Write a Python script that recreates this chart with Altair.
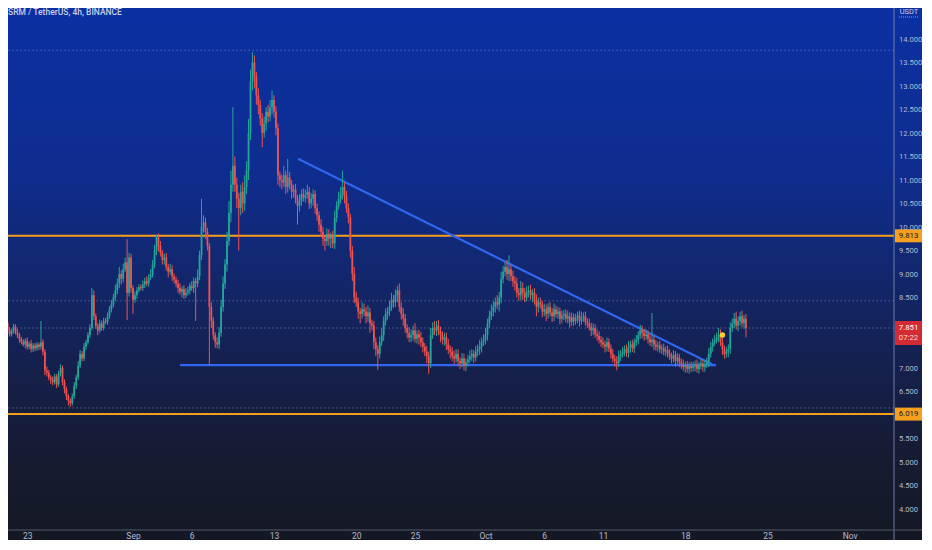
import altair as alt
import pandas as pd

TITLE = "SRM / TetherUS, 4h, BINANCE"
START = "2021-08-20 16:00"
FIRST_OPEN = 7.80

# 4h closes, one row per day (6 candles)
closes = [
    7.85, 7.78, 7.90, 7.95, 7.80, 7.72,
    7.80, 7.88, 7.75, 7.70, 7.62, 7.55,
    7.50, 7.58, 7.45, 7.52, 7.40, 7.48,
    7.42, 7.50, 7.45, 7.55, 7.35, 6.95,
    6.90, 6.80, 6.75, 6.70, 6.82, 6.65,
    6.88, 7.00, 6.70, 6.55, 6.40, 6.30,
    6.25, 6.40, 6.62, 6.80, 7.05, 7.30,
    7.20, 7.45, 7.55, 7.70, 7.85, 8.55,
    8.10, 7.90, 7.80, 7.95, 7.85, 8.00,
    7.98, 8.10, 8.25, 8.35, 8.50, 8.65,
    8.80, 9.00, 8.90, 9.10, 9.25, 8.60,
    9.35, 8.70, 8.45, 8.55, 8.65, 8.72,
    8.70, 8.78, 8.85, 8.80, 8.92, 8.98,
    9.20, 9.50, 9.78, 9.60, 9.45, 9.30,
    9.35, 9.15, 9.05, 9.10, 8.95, 8.88,
    8.80, 8.70, 8.62, 8.68, 8.55, 8.60,
    8.65, 8.75, 8.70, 8.85, 8.80, 8.95,
    9.40, 10.00, 10.10, 9.90, 9.60, 8.30,
    8.00, 7.70, 7.55, 7.50, 7.75, 8.30,
    8.80, 9.20, 9.70, 10.30, 10.90, 11.30,
    10.90, 10.60, 10.40, 10.75, 10.50, 10.85,
    11.20, 12.00, 13.10, 13.50, 13.20, 12.80,
    12.60, 12.30, 12.00, 12.20, 12.45, 12.35,
    12.55, 12.70, 12.45, 12.10, 11.10, 11.00,
    10.95, 11.10, 10.85, 11.05, 10.90, 10.75,
    10.80, 10.60, 10.45, 10.55, 10.70, 10.62,
    10.68, 10.75, 10.50, 10.60, 10.70, 10.40,
    10.25, 10.05, 9.90, 9.75, 9.70, 9.85,
    9.75, 9.80, 9.65, 10.20, 10.45, 10.60,
    10.70, 10.85, 10.65, 10.40, 10.20, 9.50,
    9.00, 8.50, 8.40, 8.20, 8.15, 8.25,
    8.20, 8.10, 8.18, 7.95, 7.90, 7.55,
    7.40, 7.30, 7.55, 7.70, 8.00, 8.15,
    8.20, 8.30, 8.45, 8.40, 8.55, 8.65,
    8.30, 8.15, 8.05, 7.85, 7.75, 7.65,
    7.70, 7.80, 7.62, 7.72, 7.65, 7.55,
    7.45, 7.35, 7.25, 7.10, 7.70, 7.85,
    7.80, 7.90, 7.78, 7.70, 7.60, 7.65,
    7.50, 7.40, 7.35, 7.25, 7.20, 7.30,
    7.15, 7.10, 7.20, 7.05, 7.12, 7.18,
    7.25, 7.30, 7.22, 7.35, 7.40, 7.45,
    7.55, 7.60, 7.70, 7.95, 8.10, 8.20,
    8.30, 8.40, 8.35, 8.50, 8.90, 9.05,
    9.15, 9.00, 9.10, 8.95, 8.85, 8.80,
    8.60, 8.55, 8.70, 8.60, 8.50, 8.62,
    8.65, 8.55, 8.60, 8.45, 8.30, 8.40,
    8.35, 8.20, 8.25, 8.15, 8.30, 8.18,
    8.10, 8.25, 8.15, 8.20, 8.05, 8.12,
    8.15, 8.05, 8.10, 7.98, 8.08, 8.00,
    8.05, 8.12, 8.00, 8.08, 8.10, 7.98,
    7.95, 7.88, 7.80, 7.85, 7.72, 7.68,
    7.60, 7.55, 7.50, 7.45, 7.55, 7.42,
    7.30, 7.20, 7.15, 7.10, 7.25, 7.30,
    7.35, 7.40, 7.32, 7.45, 7.50, 7.42,
    7.55, 7.60, 7.70, 7.80, 7.75, 7.68,
    7.72, 7.62, 7.55, 7.60, 7.50, 7.45,
    7.48, 7.40, 7.42, 7.35, 7.38, 7.30,
    7.25, 7.20, 7.28, 7.15, 7.22, 7.12,
    7.08, 7.02, 7.05, 6.98, 7.04, 7.00,
    7.03, 7.08, 6.98, 7.05, 7.10, 7.02,
    7.08, 7.12, 7.30, 7.45, 7.55, 7.60,
    7.65, 7.70, 7.55, 7.40, 7.30, 7.35,
    7.40, 7.85, 7.95, 8.05, 7.90, 8.00,
    8.10, 7.95, 8.05, 7.851,
]

# upper / lower wick lengths in cents
upper_wick = [
    5, 8, 28, 6, 4, 7,   4, 6, 5, 8, 5, 4,   6, 5, 7, 4, 8, 5,   5, 6, 4, 45, 6, 5,
    8, 6, 5, 7, 6, 5,   6, 8, 5, 6, 5, 4,   5, 6, 8, 6, 10, 8,   6, 8, 5, 6, 8, 15,
    10, 6, 5, 8, 6, 7,   6, 8, 7, 10, 8, 12,   10, 15, 8, 12, 10, 49,   10, 8, 6, 8, 7, 6,
    6, 8, 7, 10, 8, 12,   10, 12, 5, 8, 10, 6,   8, 10, 6, 12, 8, 6,   6, 8, 10, 6, 8, 10,
    8, 6, 10, 8, 6, 15,   10, 60, 15, 10, 8, 6,   10, 8, 6, 10, 12, 15,   15, 12, 20, 25, 30, 125,
    20, 15, 12, 15, 20, 25,   20, 30, 25, 22, 15, 10,   15, 10, 12, 15, 10, 15,   15, 20, 10, 12, 10, 8,
    12, 20, 10, 40, 12, 10,   10, 12, 8, 15, 10, 12,   12, 15, 10, 12, 10, 8,   10, 8, 12, 10, 8, 12,
    10, 8, 12, 15, 10, 15,   15, 35, 10, 12, 10, 8,   10, 15, 12, 10, 8, 15,   12, 10, 15, 10, 8, 10,
    10, 8, 12, 15, 10, 12,   10, 12, 15, 10, 12, 10,   15, 10, 12, 10, 8, 12,   12, 10, 15, 8, 10, 12,
    10, 8, 12, 10, 15, 12,   15, 10, 12, 10, 8, 10,   10, 12, 8, 10, 12, 10,   10, 8, 12, 10, 8, 10,
    12, 10, 8, 12, 10, 15,   10, 12, 15, 10, 12, 15,   12, 10, 15, 12, 15, 12,   10, 15, 30, 10, 12, 10,
    12, 10, 15, 12, 10, 12,   10, 12, 8, 10, 12, 10,   10, 8, 12, 10, 8, 10,   10, 12, 8, 10, 8, 10,
    8, 10, 12, 8, 10, 8,   10, 8, 10, 12, 8, 10,   8, 10, 8, 10, 8, 10,   10, 8, 10, 8, 10, 8,
    8, 10, 8, 10, 12, 8,   10, 8, 10, 12, 8, 10,   8, 10, 8, 12, 10, 8,   10, 8, 10, 57, 8, 10,
    8, 10, 8, 10, 8, 10,   10, 8, 10, 8, 10, 8,   8, 10, 8, 10, 8, 10,   10, 8, 10, 8, 10, 8,
    8, 10, 12, 10, 8, 10,   10, 15, 12, 10, 8, 10,   10, 12, 10, 12, 15, 10,   10, 12, 8, 10,
]
lower_wick = [
    6, 4, 5, 8, 6, 5,   5, 7, 4, 6, 8, 5,   4, 8, 6, 5, 7, 6,   6, 5, 7, 6, 8, 10,
    8, 6, 9, 7, 5, 8,   5, 6, 7, 9, 8, 10,   8, 5, 6, 7, 6, 5,   6, 5, 7, 5, 6, 5,
    8, 7, 10, 5, 6, 5,   5, 6, 5, 7, 6, 8,   8, 10, 12, 8, 6, 58,   8, 10, 30, 6, 8, 5,
    5, 6, 8, 6, 7, 5,   6, 8, 10, 12, 8, 10,   10, 8, 12, 6, 10, 8,   8, 10, 6, 12, 8, 6,
    6, 8, 6, 10, 80, 8,   8, 10, 12, 15, 10, 124,   15, 10, 12, 8, 10, 8,   10, 12, 15, 10, 20, 15,
    15, 20, 90, 15, 20, 15,   15, 20, 15, 20, 25, 20,   20, 15, 30, 10, 15, 12,   10, 15, 12, 15, 20, 15,
    15, 10, 15, 12, 10, 15,   12, 10, 40, 12, 10, 8,   10, 8, 12, 10, 15, 12,   12, 15, 10, 15, 20, 10,
    15, 20, 10, 12, 10, 8,   10, 12, 15, 10, 12, 15,   15, 12, 10, 15, 20, 10,   10, 15, 12, 20, 10, 15,
    15, 34, 10, 8, 12, 10,   12, 10, 8, 12, 10, 15,   10, 12, 15, 10, 12, 10,   10, 12, 8, 10, 15, 10,
    12, 10, 15, 22, 10, 8,   10, 12, 8, 15, 10, 12,   12, 10, 15, 10, 12, 8,   10, 12, 8, 10, 12, 8,
    8, 10, 12, 8, 10, 12,   12, 8, 10, 12, 10, 8,   10, 12, 10, 15, 12, 10,   10, 12, 15, 10, 12, 15,
    10, 12, 10, 15, 10, 8,   12, 10, 15, 10, 20, 12,   8, 12, 10, 15, 10, 8,   12, 10, 8, 10, 12, 10,
    10, 8, 10, 12, 8, 10,   8, 10, 12, 8, 10, 8,   10, 8, 12, 10, 8, 10,   8, 10, 8, 12, 10, 8,
    10, 8, 12, 15, 8, 10,   8, 10, 8, 10, 12, 8,   10, 8, 10, 8, 12, 10,   8, 10, 8, 10, 12, 8,
    10, 8, 10, 8, 10, 8,   8, 10, 8, 12, 8, 10,   10, 8, 12, 8, 10, 8,   8, 10, 8, 10, 8, 10,
    10, 8, 10, 8, 10, 8,   8, 10, 8, 12, 10, 8,   12, 10, 8, 10, 8, 12,   10, 8, 12, 20,
]

# drawn trendlines
trend_names = ["desc", "desc", "flat", "flat"]
trend_times = ["2021-09-15T01:00:00", "2021-10-20T07:00:00",
               "2021-09-05T00:00:00", "2021-10-20T15:00:00"]
trend_prices = [11.45, 7.08, 7.06, 7.06]

orange_levels = [9.813, 6.019]
orange_labels = ["9.813", "6.019"]
dotted_levels = [13.76, 8.43, 7.851, 6.15]
last_price = 7.851
last_label = "7.851"
countdown = "07:22"
alert_time = "2021-10-21T04:00:00"
alert_price = 7.70

x_tick_dates = [(2021, 8, 23), (2021, 9, 1), (2021, 9, 6), (2021, 9, 13), (2021, 9, 20),
                (2021, 9, 25), (2021, 10, 1), (2021, 10, 6), (2021, 10, 11), (2021, 10, 18),
                (2021, 10, 25), (2021, 11, 1)]
y_ticks = [4.0, 4.5, 5.0, 5.5, 6.5, 7.0, 8.5, 9.0, 9.5, 10.0, 10.5, 11.0,
           11.5, 12.0, 12.5, 13.0, 13.5, 14.0]

assert len(closes) == len(upper_wick) == len(lower_wick), (len(closes), len(upper_wick), len(lower_wick))

# ---------- build tables ----------
times = pd.date_range(START, periods=len(closes), freq="4h")
opens = [FIRST_OPEN] + closes[:-1]
highs = [max(o, c) + u / 100 for o, c, u in zip(opens, closes, upper_wick)]
lows = [min(o, c) - l / 100 for o, c, l in zip(opens, closes, lower_wick)]
candles = pd.DataFrame({
    "t": times.strftime("%Y-%m-%dT%H:%M:%S"),
    "open": opens, "close": closes, "high": highs, "low": lows,
})
trend_df = pd.DataFrame({"name": trend_names, "t": trend_times, "price": trend_prices})
orange_df = pd.DataFrame({"price": orange_levels, "label": orange_labels})
dotted_df = pd.DataFrame({"price": dotted_levels})
last_df = pd.DataFrame({"price": [last_price], "label": [last_label], "cd": [countdown]})
alert_df = pd.DataFrame({"t": [alert_time], "price": [alert_price]})
one = pd.DataFrame({"a": [0]})

# fixed-size SVG: plot 886x522 plus right/bottom padding for the axes
W, H = 886, 522
PAD_R, PAD_B = 28, 10
TOTAL_W, TOTAL_H = W + PAD_R, H + PAD_B
UP, DOWN = "#26a69a", "#ef5350"
ORANGE = "#f7a01d"
BLUE = "#2f66f2"
LABEL = "#b4bad0"
FONT = "Roboto"

xs = alt.Scale(domain=[alt.DateTime(year=2021, month=8, date=21, hours=8, minutes=41),
                       alt.DateTime(year=2021, month=11, date=4, hours=18, minutes=23)],
               padding=0)
xaxis = alt.Axis(values=[alt.DateTime(year=y, month=m, date=d) for y, m, d in x_tick_dates],
                 labelExpr="date(datum.value) == 1 ? timeFormat(datum.value, '%b') : timeFormat(datum.value, '%-d')",
                 title=None, grid=False, ticks=False, domain=False, labelColor=LABEL,
                 labelFontSize=8.5, labelFont=FONT, labelPadding=1.5, labelFlush=False,
                 labelOverlap=False, zindex=1)
ys = alt.Scale(domain=[3.5532, 14.6596], zero=False, nice=False, padding=0)
yaxis = alt.Axis(orient="right", values=y_ticks, format=".3f", title=None, grid=False,
                 ticks=False, domain=False, labelColor=LABEL, labelFontSize=7.6,
                 labelFont=FONT, labelPadding=4.5, labelAlign="left", labelBaseline="middle",
                 labelOverlap=False, zindex=1)


def X(field):
    return alt.X(field, scale=xs, axis=xaxis, title=None)


def Y(field):
    return alt.Y(field, scale=ys, axis=yaxis, title=None)


bg = alt.Chart(one).mark_rect(
    color=alt.LinearGradient(
        gradient="linear", x1=0, y1=0, x2=0, y2=1,
        stops=[alt.GradientStop(color="#0b30a2", offset=0),
               alt.GradientStop(color="#0e2d90", offset=0.3),
               alt.GradientStop(color="#122669", offset=0.52),
               alt.GradientStop(color="#151f48", offset=0.7),
               alt.GradientStop(color="#161b30", offset=0.86),
               alt.GradientStop(color="#141824", offset=1)])
).encode(x=alt.value(0), x2=alt.value(TOTAL_W), y=alt.value(0), y2=alt.value(TOTAL_H))

dotted = alt.Chart(dotted_df).mark_rule(
    color="#8e9cc8", opacity=0.55, strokeWidth=1, strokeDash=[1.5, 2.5]
).encode(y=Y("price:Q"))

orange = alt.Chart(orange_df).mark_rule(color=ORANGE, strokeWidth=2).encode(y=Y("price:Q"))

trend = alt.Chart(trend_df).mark_line(color=BLUE, strokeWidth=2.2).encode(
    x=X("t:T"), y=Y("price:Q"), detail="name:N")

cond = alt.condition("datum.close >= datum.open", alt.value(UP), alt.value(DOWN))
wicks = alt.Chart(candles).mark_rule(strokeWidth=1, clip=True).encode(
    x=X("t:T"), y=Y("low:Q"), y2="high:Q", color=cond)
bodies = alt.Chart(candles).mark_bar(width=1.8, clip=True).encode(
    x=X("t:T"), y=Y("open:Q"), y2="close:Q", color=cond)

alert = alt.Chart(alert_df).mark_circle(size=30, color="#f8cf2d", opacity=1).encode(
    x=X("t:T"), y=Y("price:Q"))

vsep = alt.Chart(one).mark_rule(color="#6f7ca8", strokeWidth=1).encode(
    x=alt.value(W), y=alt.value(0), y2=alt.value(TOTAL_H))
hsep = alt.Chart(one).mark_rule(color="#545a6e", strokeWidth=1).encode(
    x=alt.value(0), x2=alt.value(TOTAL_W), y=alt.value(H))

obox = alt.Chart(orange_df).mark_rule(color=ORANGE, strokeWidth=13).encode(
    x=alt.value(W + 1), x2=alt.value(TOTAL_W), y=Y("price:Q"))
otext = alt.Chart(orange_df).mark_text(
    color="#131722", fontSize=7.8, font=FONT, align="center", baseline="middle"
).encode(x=alt.value(900.5), y=Y("price:Q"), text="label:N")

rbox = alt.Chart(last_df).mark_rule(color="#d42a33", strokeWidth=24, yOffset=5).encode(
    x=alt.value(W + 1), x2=alt.value(TOTAL_W), y=Y("price:Q"))
rtext1 = alt.Chart(last_df).mark_text(
    color="white", fontSize=7.8, font=FONT, align="center", baseline="middle", yOffset=0
).encode(x=alt.value(900.5), y=Y("price:Q"), text="label:N")
rtext2 = alt.Chart(last_df).mark_text(
    color="#f3dada", fontSize=7.8, font=FONT, align="center", baseline="middle", yOffset=10
).encode(x=alt.value(900.5), y=Y("price:Q"), text="cd:N")

title = alt.Chart(one).mark_text(
    text=TITLE, color="#c9cfe6", fontSize=8.5, font=FONT, fontWeight=500,
    align="left", baseline="middle"
).encode(x=alt.value(0), y=alt.value(4))
usdt = alt.Chart(one).mark_text(
    text="USDT", color="#c9cfe6", fontSize=7.5, font=FONT, align="center", baseline="middle"
).encode(x=alt.value(901), y=alt.value(3.5))
usdt_line = alt.Chart(one).mark_rule(color="#8e9cc8", strokeDash=[1, 1], strokeWidth=1).encode(
    x=alt.value(891), x2=alt.value(911), y=alt.value(9))

chart = alt.layer(
    bg, dotted, orange, trend, wicks, bodies, alert, vsep, hsep,
    obox, otext, rbox, rtext1, rtext2, title, usdt, usdt_line
).properties(
    width=W, height=H, background="#131722",
    autosize=alt.AutoSizeParams(type="none"),
    padding={"left": 0, "top": 0, "right": PAD_R, "bottom": PAD_B},
).configure_view(stroke=None)

chart.save("out.html", embed_options={"renderer": "svg", "actions": False})
